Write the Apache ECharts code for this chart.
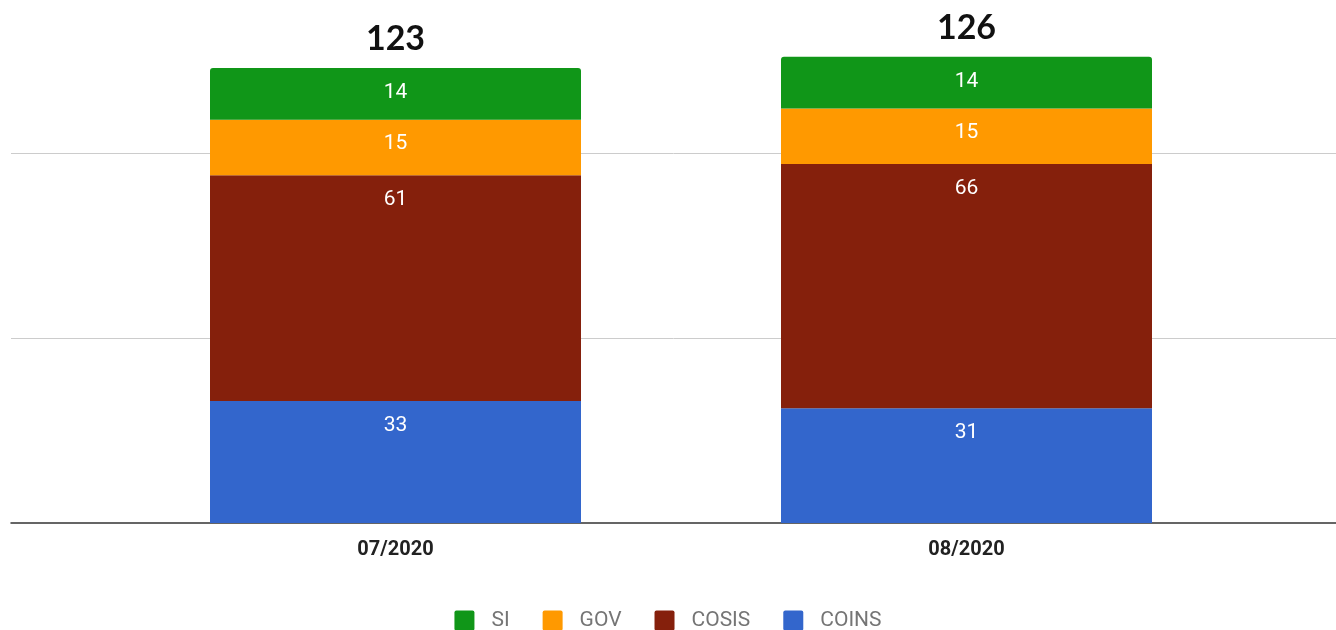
<!DOCTYPE html>
<html>
<head>
<meta charset="utf-8">
<script src="https://cdn.jsdelivr.net/npm/echarts@6/dist/echarts.min.js"></script>
<style>
html,body{margin:0;padding:0;background:#fff;}
#chart{width:1336px;height:630px;}
</style>
</head>
<body>
<div id="chart"></div>
<script>
const categories = ['07/2020', '08/2020'];
const coins = [33, 31];
const cosis = [61, 66];
const gov = [15, 15];
const si = [14, 14];
const totals = [123, 126];
const legendNames = ['SI', 'GOV', 'COSIS', 'COINS'];

const colors = { SI: '#109618', GOV: '#ff9900', COSIS: '#85200c', COINS: '#3366cc' };
const yMax = 141.35;

const segLabel = {
  show: true, position: 'insideTop', distance: 14,
  color: '#ffffff', fontFamily: 'Roboto', fontSize: 21
};

function barSeries(name, data, extra) {
  return Object.assign({
    name: name, type: 'bar', stack: 'total', data: data,
    xAxisIndex: 1, yAxisIndex: 1, barWidth: 371,
    itemStyle: { color: colors[name] },
    label: segLabel,
    emphasis: { disabled: true }
  }, extra || {});
}

const chart = echarts.init(document.getElementById('chart'));
chart.setOption({
  animation: false,
  color: [colors.SI, colors.GOV, colors.COSIS, colors.COINS],
  grid: [
    { left: 11, right: 0, top: 0, bottom: 107 },
    { left: 110, right: 84, top: 0, bottom: 107 }
  ],
  xAxis: [
    { type: 'category', gridIndex: 0, data: categories,
      axisLine: { show: true, lineStyle: { color: '#333', width: 1.5 } },
      axisTick: { show: false }, axisLabel: { show: false } },
    { type: 'category', gridIndex: 1, data: categories,
      axisLine: { show: false }, axisTick: { show: false },
      axisLabel: { margin: 17, fontFamily: 'Roboto', fontWeight: 'bold', fontSize: 20, color: '#222' } }
  ],
  yAxis: [
    { type: 'value', gridIndex: 0, min: 0, max: yMax, interval: 50,
      axisLine: { show: false }, axisTick: { show: false }, axisLabel: { show: false },
      splitLine: { show: true, showMinLine: false, showMaxLine: false, lineStyle: { color: '#cccccc', width: 1 } } },
    { type: 'value', gridIndex: 1, min: 0, max: yMax, interval: 50,
      axisLine: { show: false }, axisTick: { show: false }, axisLabel: { show: false },
      splitLine: { show: false } }
  ],
  legend: {
    data: legendNames,
    top: 605, left: 'center',
    icon: 'path://M2,0 L18,0 Q20,0 20,2 L20,18 Q20,20 18,20 L2,20 Q0,20 0,18 L0,2 Q0,0 2,0 Z',
    itemWidth: 20, itemHeight: 20, itemGap: 33,
    textStyle: { fontFamily: 'Roboto', fontSize: 21, color: '#757575', padding: [0, 0, 0, 12] }
  },
  series: [
    barSeries('COINS', coins),
    barSeries('COSIS', cosis),
    barSeries('GOV', gov),
    barSeries('SI', si, { itemStyle: { color: colors.SI, borderRadius: [3, 3, 0, 0] } }),
    {
      name: 'total', type: 'bar', stack: 'total', xAxisIndex: 1, yAxisIndex: 1,
      barWidth: 371, data: totals.map(() => 0), silent: true,
      itemStyle: { color: 'transparent' },
      label: {
        show: true, position: 'top', distance: 12,
        formatter: p => String(totals[p.dataIndex]),
        fontFamily: 'Lato', fontWeight: 'bold', fontSize: 34, color: '#111'
      }
    }
  ]
});
</script>
</body>
</html>
